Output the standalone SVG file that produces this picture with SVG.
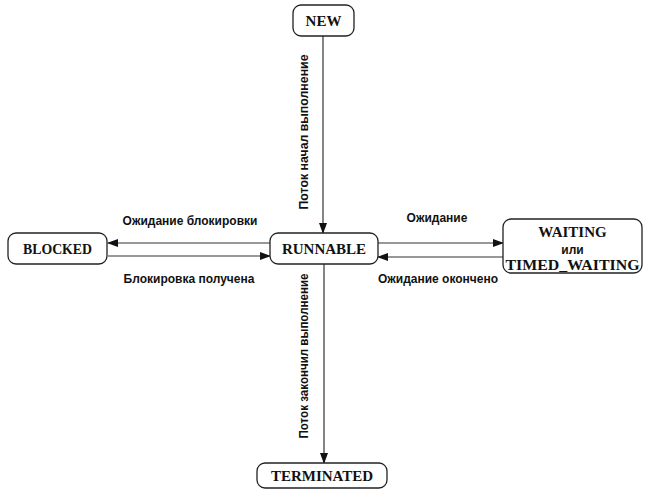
<svg xmlns="http://www.w3.org/2000/svg" width="650" height="500" viewBox="0 0 650 500">
<style>
.box{fill:#fff;stroke:#222;stroke-width:1.3}
.nt{font-family:"Liberation Serif",serif;font-weight:bold;font-size:15px;fill:#111;text-anchor:middle}
.et{font-family:"Liberation Sans",sans-serif;font-weight:bold;font-size:12px;fill:#111;text-anchor:middle}
.ln{stroke:#333;stroke-width:1.2;fill:none;marker-end:url(#ah)}
</style>
<defs>
<marker id="ah" markerWidth="11" markerHeight="8" refX="10" refY="4" orient="auto" markerUnits="userSpaceOnUse">
<path d="M0,0 L11,4 L0,8 Z" fill="#111"/>
</marker>
</defs>
<rect width="650" height="500" fill="#fff"/>
<g id="connectors">
<line class="ln" x1="323" y1="36" x2="323" y2="233"/>
<line class="ln" x1="270" y1="243" x2="108" y2="243"/>
<line class="ln" x1="108" y1="256" x2="270" y2="256"/>
<line class="ln" x1="378" y1="243" x2="503" y2="243"/>
<line class="ln" x1="503" y1="257" x2="378" y2="257"/>
<line class="ln" x1="324" y1="264" x2="324" y2="463"/>
<text class="et" transform="translate(308,132) rotate(-90)" textLength="155" lengthAdjust="spacingAndGlyphs">Поток начал выполнение</text>
<text class="et" transform="translate(308,356) rotate(-90)" textLength="165" lengthAdjust="spacingAndGlyphs">Поток закончил выполнение</text>
<text class="et" x="190" y="225">Ожидание блокировки</text>
<text class="et" x="189" y="283">Блокировка получена</text>
<text class="et" x="437" y="222">Ожидание</text>
<text class="et" x="438" y="283">Ожидание окончено</text>
</g>
<g id="NEW">
<rect class="box" x="293" y="5" width="61" height="31" rx="8"/>
<text class="nt" x="323.5" y="26">NEW</text>
</g>
<g id="RUNNABLE">
<rect class="box" x="270" y="233" width="108" height="31" rx="8"/>
<text class="nt" x="324" y="254">RUNNABLE</text>
</g>
<g id="BLOCKED">
<rect class="box" x="8" y="233" width="99" height="31" rx="8"/>
<text class="nt" x="57.5" y="254" textLength="69" lengthAdjust="spacingAndGlyphs">BLOCKED</text>
</g>
<g id="WAITING">
<rect class="box" x="503" y="219" width="139" height="54" rx="8"/>
<text class="nt" x="572.5" y="237">WAITING</text>
<text class="et" x="572.5" y="254">или</text>
<text class="nt" x="572.5" y="270" textLength="134" lengthAdjust="spacingAndGlyphs">TIMED_WAITING</text>
</g>
<g id="TERMINATED">
<rect class="box" x="257" y="463" width="130" height="25" rx="8"/>
<text class="nt" x="322" y="481">TERMINATED</text>
</g>
</svg>
